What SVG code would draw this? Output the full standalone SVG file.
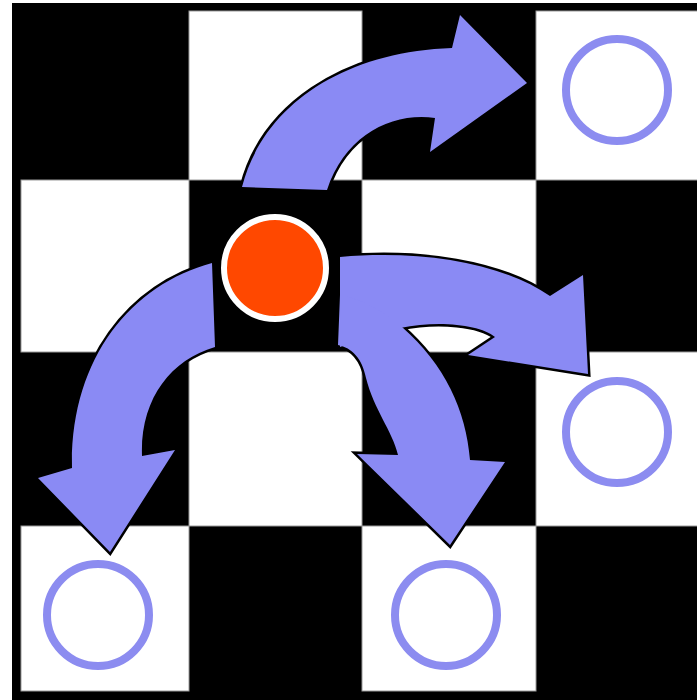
<svg xmlns="http://www.w3.org/2000/svg" width="697" height="700" viewBox="0 0 697 700">
<style>
.w{fill:#ffffff;stroke:#9a9a9a;stroke-width:1}
.ol{fill:none;stroke:#000;stroke-width:5;stroke-linejoin:miter;stroke-miterlimit:10}
.af{fill:#8a8af4;stroke:none}
.tgt{fill:#ffffff;stroke:#8c8cf0;stroke-width:8}
</style>
<defs>
<path id="aTop" d="M 242,187 C 262,108 340,52 452,48 L 460,15 L 527,83 L 430,152 L 435,118 C 392,112 345,135 327,190 Z"/>
<path id="aLeft" d="M 212,263 C 130,285 70,360 72,468 L 38,478 L 110,552 L 175,450 L 142,456 C 140,400 170,360 215,347 Z"/>
<path id="aRight" d="M 340,257 C 420,250 500,262 550,296 L 583,275 L 588,374 L 468,355 L 495,337 C 480,325 440,320 400,328 C 380,332 360,340 340,347 Z"/>
<path id="aDown" d="M 338,345 C 352,348 362,358 366,378 C 374,410 392,430 398,455 L 357,454 L 450,545 L 505,462 L 470,460 C 466,410 445,365 402,327 C 385,312 365,300 340,295 Z"/>
</defs>
<rect width="697" height="700" fill="#ffffff"/>
<g id="board">
<rect x="12" y="3" width="700" height="700" fill="#000"/>
<rect class="w" x="189" y="11" width="173" height="169"/>
<rect class="w" x="536" y="11" width="174" height="169"/>
<rect class="w" x="21" y="180" width="168" height="172"/>
<rect class="w" x="362" y="180" width="174" height="172"/>
<rect class="w" x="189" y="352" width="173" height="174"/>
<rect class="w" x="536" y="352" width="174" height="174"/>
<rect class="w" x="21" y="526" width="168" height="165"/>
<rect class="w" x="362" y="526" width="174" height="165"/>
</g>
<g id="connectors">
<use href="#aTop" class="ol"/>
<use href="#aLeft" class="ol"/>
<use href="#aRight" class="ol"/>
<use href="#aDown" class="ol"/>
<use href="#aTop" class="af"/>
<use href="#aLeft" class="af"/>
<use href="#aRight" class="af"/>
<use href="#aDown" class="af"/>
</g>
<g id="piece"><circle cx="275" cy="268" r="51" fill="#ff4800" stroke="#ffffff" stroke-width="6"/></g>
<g id="target-top-right"><circle class="tgt" cx="617" cy="90" r="51"/></g>
<g id="target-right"><circle class="tgt" cx="617" cy="432" r="51"/></g>
<g id="target-bottom-left"><circle class="tgt" cx="98" cy="615" r="51"/></g>
<g id="target-bottom-middle"><circle class="tgt" cx="446" cy="615" r="51"/></g>
</svg>
